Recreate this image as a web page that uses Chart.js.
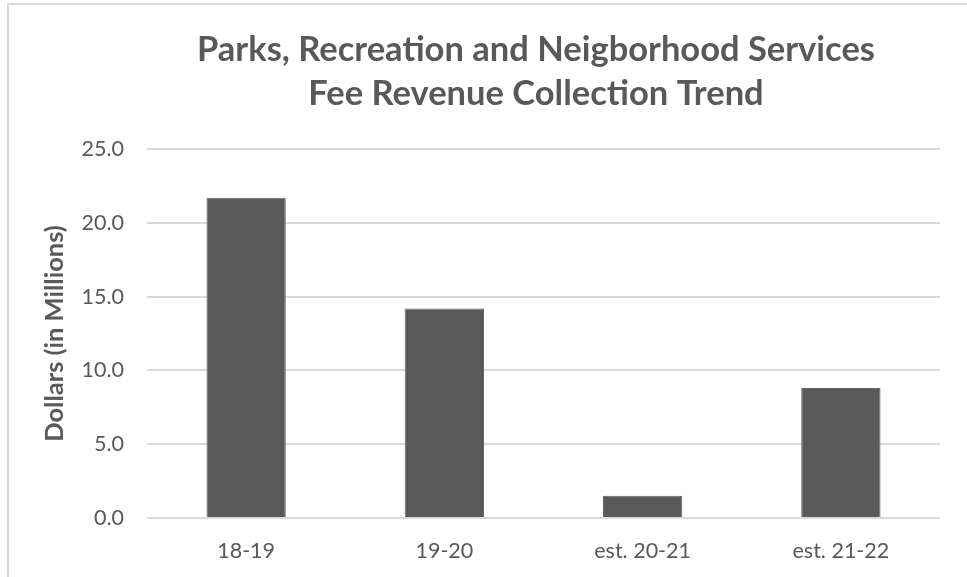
<!DOCTYPE html>
<html>
<head>
<meta charset="utf-8">
<script src="https://cdn.jsdelivr.net/npm/chart.js@4.4.1/dist/chart.umd.min.js"></script>
<style>
  html, body { margin: 0; padding: 0; background: #ffffff; overflow: hidden; }
  #wrap { position: relative; width: 967px; height: 577px; }
  #frame { position: absolute; left: 7px; top: 3px; width: 1000px; height: 700px;
           border-left: 2px solid #d9d9d9; border-top: 2px solid #d9d9d9; pointer-events: none; }
  canvas { display: block; }
</style>
</head>
<body>
<div id="wrap">
  <canvas id="c" width="967" height="577"></canvas>
  <div id="frame"></div>
</div>
<script>
const categories = ['18-19', '19-20', 'est. 20-21', 'est. 21-22'];
const feeRevenue = [21.7, 14.2, 1.5, 8.8];
const titleLines = ['Parks, Recreation and Neigborhood Services', 'Fee Revenue Collection Trend'];
const yAxisTitle = 'Dollars (in Millions)';
const yTickMin = 0, yTickMax = 25, yTickStep = 5;

const textColor = '#595959';
const fontFamily = 'Lato, "Open Sans", sans-serif';

const titleShift = {
  id: 'titleShift',
  afterLayout(chart) {
    const tb = chart.titleBlock;
    if (tb) { tb.left = 105; tb.right = 967; }
  }
};

new Chart(document.getElementById('c'), {
  type: 'bar',
  data: {
    labels: categories,
    datasets: [{
      data: feeRevenue,
      backgroundColor: '#595959',
      borderColor: '#666666',
      borderWidth: 1,
      barPercentage: 0.4,
      categoryPercentage: 1.0
    }]
  },
  plugins: [titleShift],
  options: {
    responsive: false,
    devicePixelRatio: 1,
    animation: false,
    layout: { padding: { left: 0, right: 27, top: 0, bottom: 0 } },
    plugins: {
      legend: { display: false },
      tooltip: { enabled: false },
      title: {
        display: true,
        text: titleLines,
        color: textColor,
        font: { family: fontFamily, size: 34.5, weight: 'bold', lineHeight: 44 / 34.5 },
        padding: { top: 28, bottom: 33 }
      }
    },
    scales: {
      x: {
        grid: { display: false, drawTicks: false },
        border: { display: false },
        ticks: {
          color: textColor,
          font: { family: fontFamily, size: 21.5 },
          padding: 20,
          maxRotation: 0
        },
        afterFit(scale) { scale.height = 59; }
      },
      y: {
        min: yTickMin,
        max: yTickMax,
        grid: { color: '#d9d9d9', lineWidth: 2, drawTicks: false },
        border: { display: false },
        ticks: {
          stepSize: yTickStep,
          color: textColor,
          font: { family: fontFamily, size: 21.5 },
          padding: 23,
          callback: v => Number(v).toFixed(1)
        },
        title: {
          display: true,
          text: yAxisTitle,
          color: textColor,
          font: { family: fontFamily, size: 25.5, weight: 'bold' },
          padding: { top: 39, bottom: 0 }
        },
        afterFit(scale) { scale.width = 147; }
      }
    }
  }
});
</script>
</body>
</html>
